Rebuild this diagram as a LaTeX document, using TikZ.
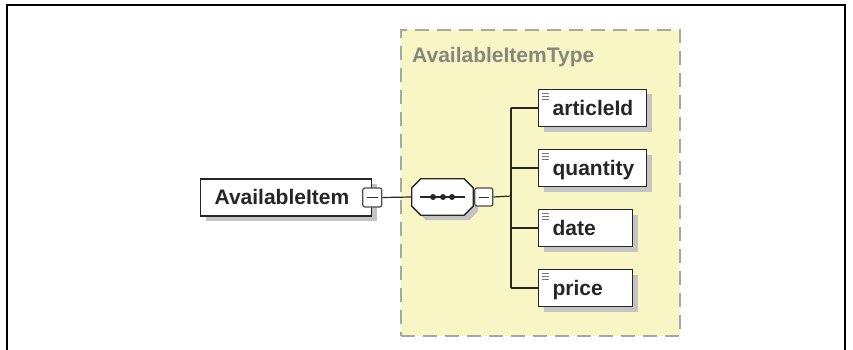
\documentclass[tikz,border=0pt]{standalone}
\usepackage{fontspec}
\setsansfont{Liberation Sans}
\usetikzlibrary{positioning, calc, shadows}

\definecolor{typefill}{RGB}{248,246,196}
\definecolor{typeedge}{RGB}{168,168,160}
\definecolor{typetext}{RGB}{135,135,125}
\definecolor{shadowgray}{RGB}{196,196,196}
\definecolor{icongray}{RGB}{120,120,120}

\tikzset{
    boxshadow/.style={drop shadow={shadow xshift=5pt, shadow yshift=-5pt, fill=shadowgray, opacity=1}},
    labelfont/.style={font=\sffamily\bfseries\fontsize{21}{25}\selectfont},
    % element box (AvailableItem and its children)
    elembox/.style={draw=black!85, line width=1.3pt, fill=white, boxshadow,
        inner xsep=14pt, inner ysep=0pt, minimum height=37pt,
        text height=14.5pt, text depth=0pt, align=left, anchor=west,
        labelfont, text=black!85},
    % leaf element with the simple content icon
    leafbox/.style={elembox, path picture={
        \foreach \dy in {4,7,10}
            \draw[icongray, line width=1.1pt]
                ($(path picture bounding box.north west)+(3.5pt,-\dy pt)$) -- +(7pt,0);
    }},
    % sequence compositor: octagon drawn round the node
    seqpath/.style={insert path={
        ($(#1.north west)+(9pt,0)$) -- ($(#1.north east)+(-9pt,0)$)
        -- ($(#1.north east)+(0,-9pt)$) -- ($(#1.south east)+(0,9pt)$)
        -- ($(#1.south east)+(-9pt,0)$) -- ($(#1.south west)+(9pt,0)$)
        -- ($(#1.south west)+(0,9pt)$) -- ($(#1.north west)+(0,-9pt)$) -- cycle}},
    seqbox/.style={minimum width=61pt, minimum height=36pt, inner sep=0pt},
    minusbox/.style={draw=black!70, line width=1.2pt, fill=white, rounded corners=2pt,
        minimum size=18pt, inner sep=0pt, path picture={
        \draw[black!80, line width=1pt]
            ($(path picture bounding box.west)+(4pt,0)$) -- ($(path picture bounding box.east)+(-4pt,0)$);
    }},
    typebox/.style={draw=typeedge, fill=typefill, line width=1.8pt,
        dash pattern=on 14pt off 8pt, anchor=north west},
    link/.style={draw=black!85, line width=1.2pt}
}

\begin{document}
\begin{tikzpicture}[x=1pt, y=-1pt]

    \useasboundingbox (0,0) rectangle (853,350);

    % outer frame (open at the bottom)
    \draw[line width=2pt] (7,350) -- (7,5) -- (845,5) -- (845,350);

    % --- complex type container ---
    \node[typebox, minimum width=279pt, minimum height=306pt] (itemtype) at (400,29) {};
    \node[anchor=base west, inner sep=0pt, text=typetext, labelfont]
        (typetitle) at (412,63) {AvailableItemType};

    % --- root element ---
    \node[elembox, text width=143pt] (item) at (200,197.5) {AvailableItem};
    \node[minusbox, minimum size=19pt] (itemminus) at (item.east) {};

    % --- sequence ---
    \node[seqbox] (seq) at (442.5,197) {};
    \path[fill=shadowgray, transform canvas={shift={(5pt,-5pt)}}, seqpath=seq];
    \path[draw=black!85, line width=1.3pt, fill=white, seqpath=seq];
    \node[minusbox, right=1pt of seq] (seqminus) {};
    \draw[black!85, line width=1.4pt] ($(seq.center)+(-22.5pt,0)$) -- ($(seq.center)+(22.5pt,0)$);
    \foreach \dx in {-9.5,0.5,9.5}
        \fill[black!85] ($(seq.center)+(\dx pt,0)$) circle (3pt);

    % --- child elements ---
    \node[leafbox, text width=80pt] (articleId) at (538,108) {articleId};
    \node[leafbox, text width=80pt] (quantity)  at (538,168) {quantity};
    \node[leafbox, text width=66pt] (date)      at (538,228) {date};
    \node[leafbox, text width=66pt] (price)     at (538,288) {price};

    % --- connectors ---
    \coordinate (fork) at (511,196);
    \draw[link] (itemminus.east) -- (seq.west);
    \draw[link] (seqminus.east) -- (fork);
    \draw[link] (fork |- articleId.west) -- (fork |- price.west);
    \foreach \child in {articleId, quantity, date, price}
        \draw[link] (fork |- \child.west) -- (\child.west);

\end{tikzpicture}
\end{document}
